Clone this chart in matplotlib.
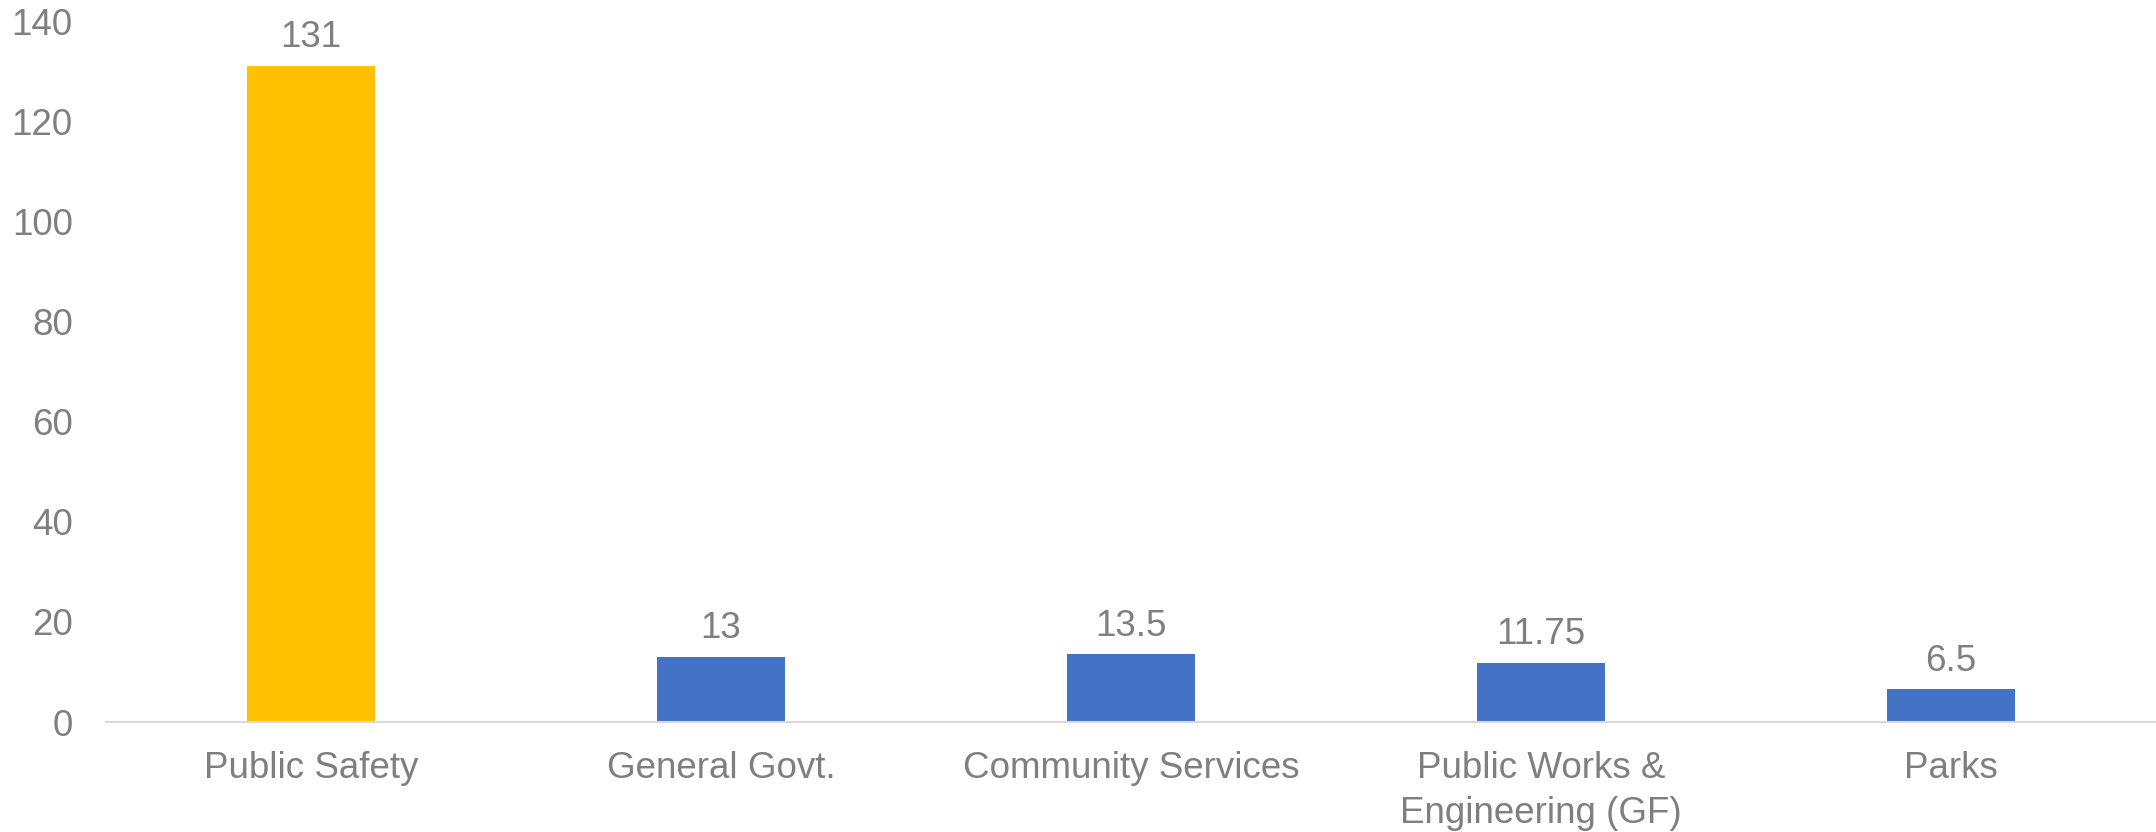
import matplotlib

matplotlib.use("Agg")
import matplotlib.pyplot as plt  # noqa: E402

categories = [
    "Public Safety",
    "General Govt.",
    "Community Services",
    "Public Works &\nEngineering (GF)",
    "Parks",
]
values = [131, 13, 13.5, 11.75, 6.5]
value_labels = ["131", "13", "13.5", "11.75", "6.5"]
bar_colors = ["#FFC000", "#4472C4", "#4472C4", "#4472C4", "#4472C4"]
y_ticks = [0, 20, 40, 60, 80, 100, 120, 140]

TEXT = "#7F7F7F"
plt.rcParams["font.family"] = ["Liberation Sans", "DejaVu Sans"]

fig = plt.figure(figsize=(21.56, 8.32), dpi=100)
ax = fig.add_axes([106 / 2156, 1 - 722 / 832, 1 - 106 / 2156, (722 - 21) / 832])

x = list(range(len(categories)))
ax.bar(x, values, width=0.31, color=bar_colors, zorder=2)
for xi, v, lab in zip(x, values, value_labels):
    ax.annotate(
        lab,
        (xi, v),
        xytext=(0, 13.5),
        textcoords="offset points",
        ha="center",
        va="baseline",
        fontsize=26.5,
        color=TEXT,
    )

ax.set_xlim(-0.5, len(categories) - 0.5)
ax.set_ylim(0, 140)
ax.set_yticks(y_ticks)
ax.set_xticks(x)
ax.set_xticklabels(categories, linespacing=1.36)
ax.tick_params(axis="y", length=0, pad=24, labelsize=26.5, labelcolor=TEXT)
ax.tick_params(axis="x", length=0, pad=21, labelsize=26.5, labelcolor=TEXT)
for side in ("top", "right", "left"):
    ax.spines[side].set_visible(False)
ax.spines["bottom"].set_color("#D9D9D9")
ax.spines["bottom"].set_linewidth(1.5)

fig.savefig("out.png", dpi=100)
